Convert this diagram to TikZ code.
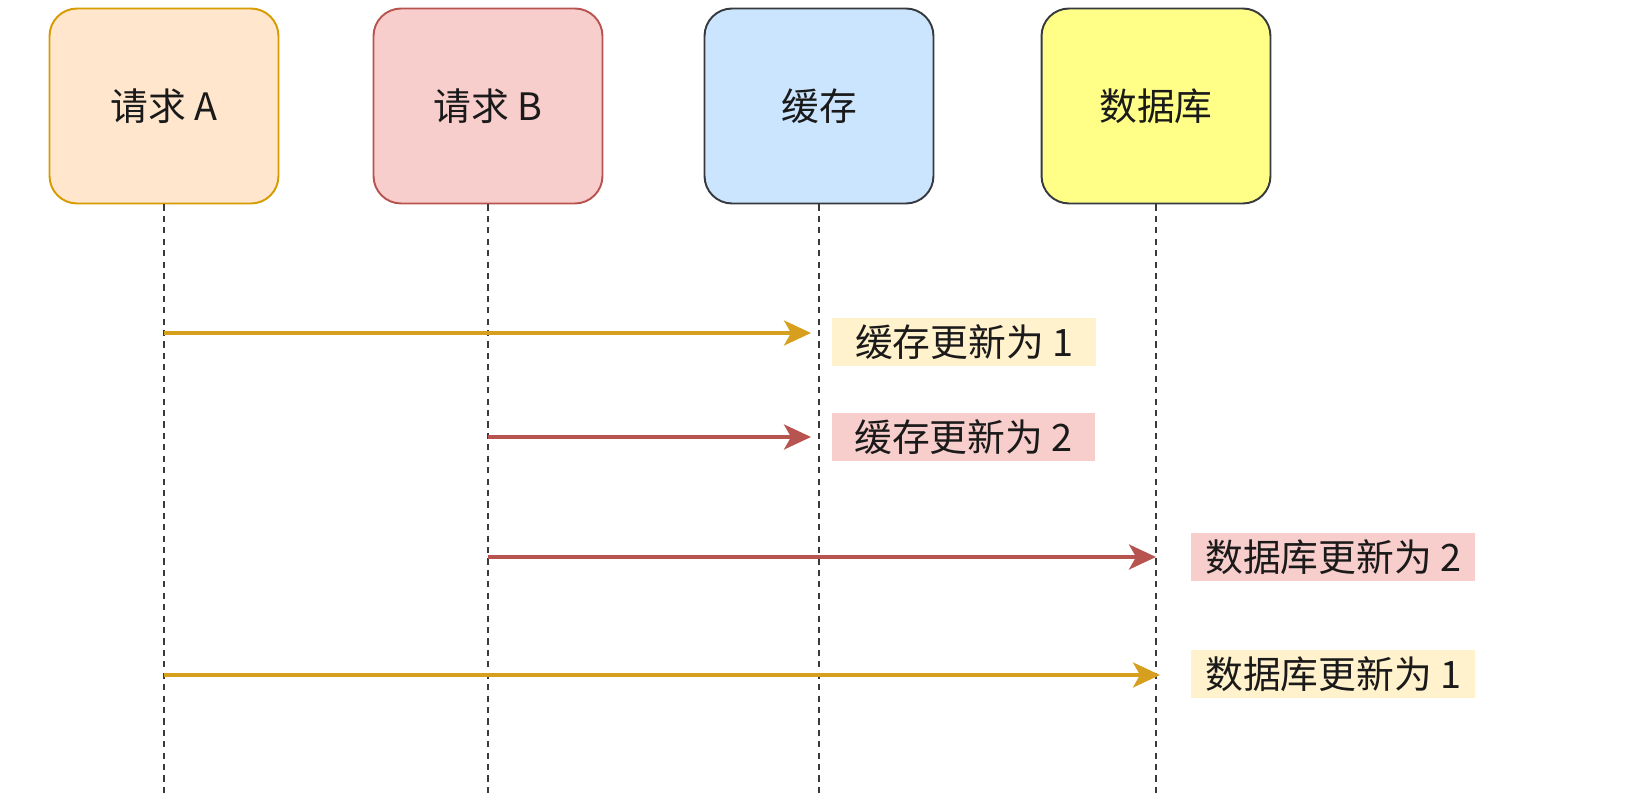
\documentclass[tikz,border=0pt]{standalone}
\usepackage{fontspec}
\setmainfont{Noto Sans CJK SC}
\usetikzlibrary{arrows.meta,positioning}
\definecolor{reqAfill}{HTML}{FFE6CC}
\definecolor{reqAline}{HTML}{D79B00}
\definecolor{reqBfill}{HTML}{F8CECC}
\definecolor{reqBline}{HTML}{B85450}
\definecolor{cachefill}{HTML}{CCE5FF}
\definecolor{dbfill}{HTML}{FFFF88}
\definecolor{darkline}{HTML}{36393D}
\definecolor{goldline}{HTML}{D6A01E}
\definecolor{yellownote}{HTML}{FFF2CC}
\definecolor{lifegray}{HTML}{3A3A3A}
\definecolor{txt}{HTML}{1A1A1A}

\begin{document}
\begin{tikzpicture}[x=0.02cm, y=-0.02cm,
    >={Stealth[length=0.54cm, width=0.5cm, inset=0.14cm]},
    actor/.style={draw, line width=1.1pt, rounded corners=0.55cm,
        minimum width=4.58cm, minimum height=3.9cm,
        font=\fontsize{21.5}{26}\selectfont, text=txt},
    life/.style={draw=lifegray, line width=0.9pt, dash pattern=on 3.5pt off 3pt},
    msg/.style={->, line width=2pt},
    note/.style={anchor=west, inner sep=0pt, minimum height=0.96cm,
        font=\fontsize{21.5}{26}\selectfont, text=txt}]
    \useasboundingbox (0,0) rectangle (1629,810);

    % participants
    \node[actor, fill=reqAfill, draw=reqAline] (reqA) at (164,106) {请求 A};
    \node[actor, fill=reqBfill, draw=reqBline] (reqB) at (488,106) {请求 B};
    \node[actor, fill=cachefill, draw=darkline] (cache) at (819,106) {缓存};
    \node[actor, fill=dbfill, draw=darkline] (db) at (1156,106) {数据库};

    % lifelines
    \coordinate (bottom) at (0,795);
    \draw[life] (reqA.south) -- (reqA.south |- bottom);
    \draw[life] (reqB.south) -- (reqB.south |- bottom);
    \draw[life] (cache.south) -- (cache.south |- bottom);
    \draw[life] (db.south) -- (db.south |- bottom);

    % messages
    \coordinate (row1) at (0,333);
    \coordinate (row2) at (0,437);
    \coordinate (row3) at (0,557);
    \coordinate (row4) at (0,675);
    \draw[msg, draw=goldline, shorten >=0.16cm] (reqA |- row1) -- (cache |- row1);
    \draw[msg, draw=reqBline, shorten >=0.16cm] (reqB |- row2) -- (cache |- row2);
    \draw[msg, draw=reqBline] (reqB |- row3) -- (db |- row3);
    \draw[msg, draw=goldline, shorten >=-0.08cm] (reqA |- row4) -- (db |- row4);

    % notes
    \node[note, fill=yellownote, minimum width=5.28cm] (note1) at (832,342) {缓存更新为 1};
    \node[note, fill=reqBfill, minimum width=5.25cm] (note2) at (832,437) {缓存更新为 2};
    \node[note, fill=reqBfill, minimum width=5.68cm] (note3) at (1191,557) {数据库更新为 2};
    \node[note, fill=yellownote, minimum width=5.68cm] (note4) at (1191,674) {数据库更新为 1};
\end{tikzpicture}
\end{document}
